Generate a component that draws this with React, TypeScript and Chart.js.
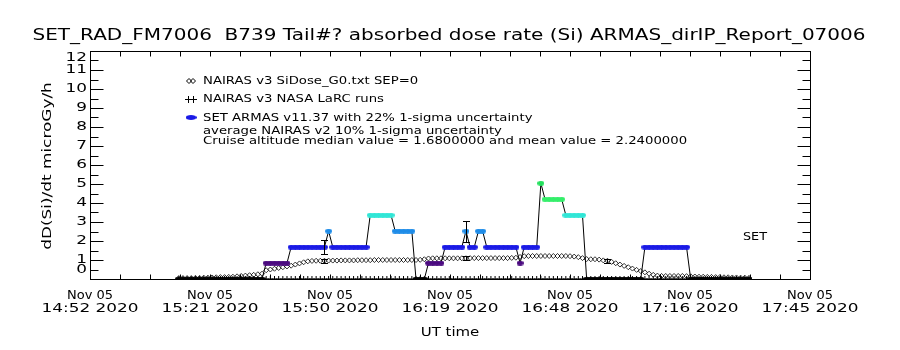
import React, { useEffect, useRef } from "react";
import { Chart, registerables } from "chart.js";

Chart.register(...registerables);

// ---------------- text ----------------
const TITLE = "SET_RAD_FM7006  B739 Tail#? absorbed dose rate (Si) ARMAS_dirIP_Report_07006";
const Y_TITLE = "dD(Si)/dt microGy/h";
const X_TITLE = "UT time";
const DATE_LABEL = "Nov 05";
const YEAR_LABEL = "2020";
const LEGEND_G0 = "NAIRAS v3 SiDose_G0.txt SEP=0";
const LEGEND_LARC = "NAIRAS v3 NASA LaRC runs";
const LEGEND_ARMAS = "SET ARMAS v11.37 with 22% 1-sigma uncertainty";
const NOTE_NAIRAS = "average NAIRAS v2 10% 1-sigma uncertainty";
const NOTE_CRUISE = "Cruise altitude median value = 1.6800000 and mean value = 2.2400000";
const SET_LABEL = "SET";

// ---------------- axes (minutes of day, UT) ----------------
const X_MIN = 892 + 2 / 3; // 14:52:40
const X_MAX = 1065 + 2 / 3; // 17:45:40
const Y_MIN = 0;
const Y_MAX = 12;
const Y_STEP = 0.5;

// ---------------- data ----------------
const armasTimes = [
  914, 915, 916, 917, 918, 919, 920, 921, 922, 923, 924, 925, 926, 927, 928, 929, 930, 931, 932, 933,
  934, 935, 936, 937, 938, 939, 940, 941, 942, 943, 944, 945, 946, 947, 948, 949, 950, 951, 952, 953,
  954, 955, 956, 957, 958, 959, 960, 961, 962, 963, 964, 965, 966, 967, 968, 969, 970, 971, 972, 973,
  974, 975, 976, 977, 978, 979, 980, 981, 982, 983, 984, 985, 986, 987, 988, 989, 990, 991, 992, 993,
  994, 995, 996, 997, 998, 999, 1000, 1001, 1002, 1003, 1004, 1005, 1006, 1007, 1008, 1009, 1010, 1011, 1012, 1013,
  1014, 1015, 1016, 1017, 1018, 1019, 1020, 1021, 1022, 1023, 1024, 1025, 1026, 1027, 1028, 1029, 1030, 1031, 1032, 1033,
  1034, 1035, 1036, 1037, 1038, 1039, 1040, 1041, 1042, 1043, 1044, 1045, 1046, 1047, 1048, 1049, 1050, 1051,
];

const armasDose = [
  0, 0, 0, 0, 0, 0, 0, 0, 0, 0, 0, 0, 0, 0, 0, 0, 0, 0, 0, 0,
  0, 0.84, 0.84, 0.84, 0.84, 0.84, 0.84, 1.68, 1.68, 1.68, 1.68, 1.68, 1.68, 1.68, 1.68, 1.68, 2.52, 1.68, 1.68, 1.68,
  1.68, 1.68, 1.68, 1.68, 1.68, 1.68, 3.36, 3.36, 3.36, 3.36, 3.36, 3.36, 2.52, 2.52, 2.52, 2.52, 2.52, 0, 0, 0,
  0.84, 0.84, 0.84, 0.84, 1.68, 1.68, 1.68, 1.68, 1.68, 2.52, 1.68, 1.68, 2.52, 2.52, 1.68, 1.68, 1.68, 1.68, 1.68, 1.68,
  1.68, 1.68, 0.84, 1.68, 1.68, 1.68, 1.68, 5.04, 4.2, 4.2, 4.2, 4.2, 4.2, 3.36, 3.36, 3.36, 3.36, 3.36, 0, 0,
  0, 0, 0, 0, 0, 0, 0, 0, 0, 0, 0, 0, 1.68, 1.68, 1.68, 1.68, 1.68, 1.68, 1.68, 1.68,
  1.68, 1.68, 1.68, 0, 0, 0, 0, 0, 0, 0, 0, 0, 0, 0, 0, 0, 0, 0,
];

const nairasG0Dose = [
  0.05, 0.05, 0.05, 0.05, 0.06, 0.06, 0.07, 0.07, 0.08, 0.09, 0.10, 0.10, 0.11, 0.12, 0.14, 0.16, 0.18, 0.20, 0.22, 0.25,
  0.28, 0.46, 0.50, 0.54, 0.58, 0.62, 0.66, 0.70, 0.76, 0.82, 0.88, 0.93, 0.95, 0.96, 0.96, 0.96, 0.97, 0.97, 0.97, 0.98,
  0.98, 0.98, 0.98, 0.99, 0.99, 0.99, 0.99, 1.00, 1.00, 1.00, 1.00, 1.00, 1.00, 1.00, 1.00, 1.00, 1.00, 1.00, 1.01, 1.04,
  1.08, 1.09, 1.09, 1.09, 1.09, 1.09, 1.09, 1.09, 1.09, 1.09, 1.10, 1.10, 1.10, 1.10, 1.10, 1.10, 1.10, 1.10, 1.10, 1.10,
  1.11, 1.12, 1.16, 1.20, 1.21, 1.21, 1.21, 1.21, 1.21, 1.21, 1.21, 1.21, 1.21, 1.21, 1.20, 1.18, 1.15, 1.10, 1.05, 1.04,
  1.04, 1.02, 0.98, 0.96, 0.90, 0.83, 0.76, 0.69, 0.62, 0.55, 0.48, 0.42, 0.35, 0.28, 0.22, 0.18, 0.16, 0.16, 0.16, 0.16,
  0.16, 0.16, 0.15, 0.14, 0.13, 0.12, 0.12, 0.11, 0.11, 0.10, 0.10, 0.09, 0.09, 0.08, 0.08, 0.07, 0.07, 0.06,
];

const larcDose = [
  0, 0, 0, 0, 0, 0, 0, 0, 0, 0, 0, 0, 0, 0, 0, 0, 0, 0, 0, 0,
  0, 0, 0, 0, 0, 0, 0, 0, 0, 0, 0, 0, 0, 0, 0, 0, 0, 0, 0, 0,
  0, 0, 0, 0, 0, 0, 0, 0, 0, 0, 0, 0, 0, 0, 0, 0, 0, 0, 0, 0,
  0, 0, 0, 0, 0, 0, 0, 0, 0, 0, 0, 0, 0, 0, 0, 0, 0, 0, 0, 0,
  0, 0, 0, 0, 0, 0, 0, 0, 0, 0, 0, 0, 0, 0, 0, 0, 0, 0, 0, 0,
  0, 0, 0, 0, 0, 0, 0, 0, 0, 0, 0, 0, 0, 0, 0, 0, 0, 0, 0, 0,
  0, 0, 0, 0, 0, 0, 0, 0, 0, 0, 0, 0, 0, 0, 0, 0, 0, 0,
];

// uncertainty bars
const errTimes = [949, 983, 1017];
const armasErrLow = [1.31, 1.97, 0];
const armasErrHigh = [2.05, 3.07, 0];
const nairasErrLow = [0.86, 0.98, 0.86];
const nairasErrHigh = [1.06, 1.2, 1.06];

// ---------------- styling ----------------
const FONT = '"DejaVu Sans", sans-serif';
const DOSE_STEP = 0.84;
const DOSE_COLORS = ["#000000", "#4b0a80", "#1a1ae6", "#1e8ce8", "#30e6d6", "#34ee6a", "#22e05c"];

function doseColor(v: number) {
  const i = Math.max(0, Math.min(DOSE_COLORS.length - 1, Math.round(v / DOSE_STEP)));
  return DOSE_COLORS[i];
}

const markerCache: Record<string, HTMLCanvasElement> = {};
function ellipseMarker(color: string, w = 7, h = 5) {
  const key = color + w + "x" + h;
  if (!markerCache[key]) {
    const c = document.createElement("canvas");
    c.width = w;
    c.height = h;
    const g = c.getContext("2d")!;
    g.fillStyle = color;
    g.beginPath();
    g.ellipse(w / 2, h / 2, w / 2, h / 2, 0, 0, Math.PI * 2);
    g.fill();
    markerCache[key] = c;
  }
  return markerCache[key];
}

function drawText(
  ctx: CanvasRenderingContext2D,
  s: string,
  x: number,
  y: number,
  size: number,
  align: CanvasTextAlign,
  sx: number,
  rot = 0
) {
  ctx.save();
  ctx.translate(x, y);
  if (rot) ctx.rotate(rot);
  ctx.scale(sx, 1);
  ctx.font = `${size}px ${FONT}`;
  ctx.textAlign = align;
  ctx.textBaseline = "middle";
  ctx.fillStyle = "#000";
  ctx.fillText(s, 0, 0);
  ctx.restore();
}

function fmtTime(v: number) {
  const m = Math.floor(v + 0.001);
  const hh = Math.floor(m / 60);
  const mm = m % 60;
  return `${hh}:${String(mm).padStart(2, "0")}`;
}

function xTickValues() {
  return Array.from({ length: 25 }, (_, i) => X_MIN + (i * (X_MAX - X_MIN)) / 24);
}

const idlPlugin = {
  id: "idlFrame",
  afterDatasetsDraw(chart: any) {
    const { ctx, scales } = chart;
    const x = scales.x;
    const y = scales.y;
    ctx.save();
    ctx.strokeStyle = "#000";
    ctx.lineWidth = 1;
    const bar = (t: number, lo: number, hi: number) => {
      if (hi - lo <= 0) return;
      const px = Math.round(x.getPixelForValue(t)) + 0.5;
      const p1 = Math.round(y.getPixelForValue(lo)) + 0.5;
      const p2 = Math.round(y.getPixelForValue(hi)) + 0.5;
      ctx.beginPath();
      ctx.moveTo(px, p1);
      ctx.lineTo(px, p2);
      ctx.moveTo(px - 3.5, p1);
      ctx.lineTo(px + 3.5, p1);
      ctx.moveTo(px - 3.5, p2);
      ctx.lineTo(px + 3.5, p2);
      ctx.stroke();
    };
    errTimes.forEach((t, i) => {
      bar(t, armasErrLow[i], armasErrHigh[i]);
      bar(t, nairasErrLow[i], nairasErrHigh[i]);
    });
    ctx.restore();
  },
  afterDraw(chart: any) {
    const { ctx, chartArea: a, scales } = chart;
    const x = scales.x;
    const y = scales.y;
    ctx.save();
    ctx.strokeStyle = "#000";
    ctx.lineWidth = 1;
    const L = Math.round(a.left) + 0.5;
    const R = Math.round(a.right) + 0.5;
    const T = Math.round(a.top) + 0.5;
    const B = Math.round(a.bottom) + 0.5;
    ctx.strokeRect(L, T, R - L, B - T);

    // x ticks (4 minor intervals per labelled interval)
    let xt: number[] = (x.ticks || []).map((t: any) => t.value);
    if (xt.length !== 25) xt = xTickValues();
    ctx.beginPath();
    xt.forEach((v) => {
      const px = Math.round(x.getPixelForValue(v)) + 0.5;
      ctx.moveTo(px, T);
      ctx.lineTo(px, T + 5);
      ctx.moveTo(px, B);
      ctx.lineTo(px, B - 5);
    });
    ctx.stroke();
    xt.forEach((v, i) => {
      if (i % 4 !== 0) return;
      const px = x.getPixelForValue(v);
      drawText(ctx, DATE_LABEL, px, 296, 13, "center", 1.0);
      drawText(ctx, `${fmtTime(v)} ${YEAR_LABEL}`, px, 309, 13, "center", 1.3);
    });

    // y ticks
    let yt: number[] = (y.ticks || []).map((t: any) => t.value);
    if (yt.length !== 25) yt = Array.from({ length: 25 }, (_, i) => Y_MIN + i * Y_STEP);
    ctx.beginPath();
    yt.forEach((v) => {
      const py = Math.round(y.getPixelForValue(v)) + 0.5;
      const major = Math.abs(v - Math.round(v)) < 1e-6;
      const len = major ? 13 : 8;
      ctx.moveTo(L, py);
      ctx.lineTo(L + len, py);
      ctx.moveTo(R, py);
      ctx.lineTo(R - len, py);
    });
    ctx.stroke();
    yt.forEach((v) => {
      if (Math.abs(v - Math.round(v)) > 1e-6) return;
      const py = Math.min(Math.max(y.getPixelForValue(v), a.top + 7), a.bottom - 9);
      drawText(ctx, String(Math.round(v)), 87, py, 13, "right", 1.3);
    });

    // titles
    drawText(ctx, TITLE, 449, 36, 16, "center", 1.25);
    drawText(ctx, X_TITLE, 450, 333, 13, "center", 1.15);
    drawText(ctx, Y_TITLE, 48, (a.top + a.bottom) / 2 + 1, 13, "center", 1.3, -Math.PI / 2);

    // legend
    const lx = 203;
    drawText(ctx, LEGEND_G0, lx, 81, 10.5, "left", 1.26);
    drawText(ctx, LEGEND_LARC, lx, 99, 10.5, "left", 1.26);
    drawText(ctx, LEGEND_ARMAS, lx, 118, 10.5, "left", 1.26);
    drawText(ctx, NOTE_NAIRAS, lx, 131, 10.5, "left", 1.26);
    drawText(ctx, NOTE_CRUISE, lx, 141, 10.5, "left", 1.26);
    drawText(ctx, SET_LABEL, 755, 237, 10.5, "center", 1.22);

    // legend symbols
    ctx.lineWidth = 1;
    [189, 193].forEach((cx) => {
      ctx.beginPath();
      ctx.moveTo(cx - 2.5, 81);
      ctx.lineTo(cx, 78.5);
      ctx.lineTo(cx + 2.5, 81);
      ctx.lineTo(cx, 83.5);
      ctx.closePath();
      ctx.stroke();
    });
    ctx.beginPath();
    [188.5, 193.5].forEach((cx) => {
      ctx.moveTo(cx, 96);
      ctx.lineTo(cx, 103);
    });
    ctx.moveTo(185, 99.5);
    ctx.lineTo(197, 99.5);
    ctx.stroke();
    ctx.drawImage(ellipseMarker(DOSE_COLORS[2], 11, 5), 185.5, 115);
    ctx.restore();
  },
};

export default function App() {
  const ref = useRef<HTMLCanvasElement>(null);

  useEffect(() => {
    const canvas = ref.current;
    if (!canvas) return;

    const armasPoints = armasTimes.map((t, i) => ({ x: t, y: armasDose[i] }));
    const g0Points = armasTimes.map((t, i) => ({ x: t, y: nairasG0Dose[i] }));
    const larcPoints = armasTimes.map((t, i) => ({ x: t, y: larcDose[i] }));

    const chart = new Chart(canvas, {
      type: "line",
      data: {
        datasets: [
          {
            label: "SET ARMAS",
            data: armasPoints,
            borderColor: "#000",
            borderWidth: 1,
            pointStyle: (c: any) => ellipseMarker(doseColor(c.raw ? c.raw.y : 1.68)),
            pointRadius: 3,
            tension: 0,
            fill: false,
            clip: 0,
            order: 0,
          } as any,
          {
            label: "NAIRAS v3 SiDose_G0",
            data: g0Points,
            showLine: false,
            pointStyle: "rectRot",
            pointRadius: 2.5,
            borderColor: "#000",
            borderWidth: 0.8,
            backgroundColor: "rgba(0,0,0,0)",
            clip: 0,
            order: 2,
          } as any,
          {
            label: "NAIRAS v3 NASA LaRC",
            data: larcPoints,
            showLine: false,
            pointStyle: "cross",
            pointRadius: 3,
            borderColor: "#000",
            borderWidth: 1,
            clip: 0,
            order: 1,
          } as any,
        ],
      },
      options: {
        responsive: false,
        devicePixelRatio: 1,
        animation: false,
        events: [],
        layout: { padding: { left: 90, right: 90, top: 51, bottom: 71 } },
        plugins: {
          legend: { display: false },
          title: { display: false },
          tooltip: { enabled: false },
        },
        scales: {
          x: {
            type: "linear",
            display: false,
            min: X_MIN,
            max: X_MAX,
            ticks: { autoSkip: false, maxTicksLimit: 100 },
            afterBuildTicks: (scale: any) => {
              scale.ticks = xTickValues().map((v) => ({ value: v }));
            },
          },
          y: {
            type: "linear",
            display: false,
            min: Y_MIN,
            max: Y_MAX,
            ticks: { stepSize: Y_STEP, autoSkip: false, maxTicksLimit: 100 },
          },
        },
      } as any,
      plugins: [idlPlugin],
    });

    return () => chart.destroy();
  }, []);

  return (
    <div style={{ position: "absolute", left: 0, top: 0, width: 900, height: 350, background: "#fff" }}>
      <canvas ref={ref} width={900} height={350} style={{ display: "block", width: 900, height: 350 }} />
    </div>
  );
}
